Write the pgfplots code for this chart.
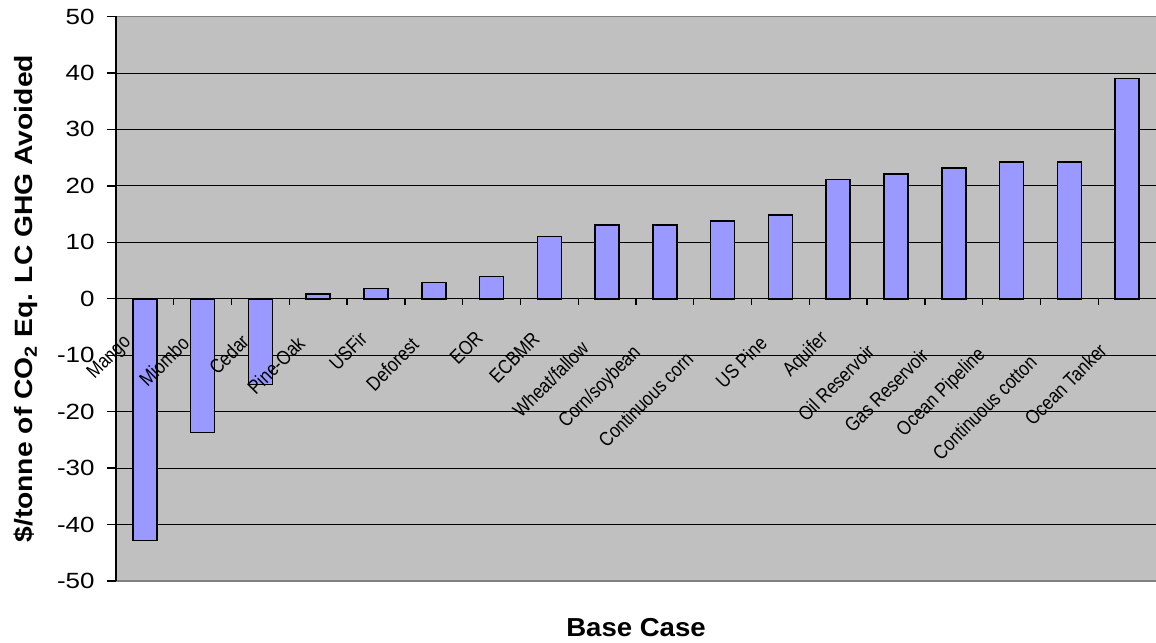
\documentclass[border=0pt]{standalone}
\usepackage{fontspec}
\setmainfont{Liberation Sans}
\newfontfamily\tickfont[FakeStretch=1.18]{Liberation Sans}
\newfontfamily\catfont[FakeStretch=0.85]{Liberation Sans}
\newfontfamily\ylabfont[FakeStretch=1.13]{Liberation Sans}
\newfontfamily\xlabfont[FakeStretch=1.06]{Liberation Sans}
\usepackage{pgfplots}
\pgfplotsset{compat=1.18}
\definecolor{plotbg}{HTML}{C0C0C0}
\definecolor{barfill}{HTML}{9999FF}
\definecolor{bordergray}{HTML}{808080}
\begin{document}
\begin{tikzpicture}
\begin{axis}[
  axis on top,
  scale only axis, width=520pt, height=282.25pt,
  xmin=-0.5, xmax=17.5, ymin=-50, ymax=50,
  axis x line=middle, axis y line=left,
  axis line style={-, black, line width=0.7pt},
  hide obscured x ticks=false, hide obscured y ticks=false,
  axis background/.style={fill=plotbg, draw=none},
  ytick={-50,-40,...,50},
  tick align=outside,
  major tick length=4.5pt,
  minor tick length=3pt,
  ytick style={black, line width=0.7pt},
  major x tick style={draw=none},
  minor x tick style={black, line width=0.7pt},
  xtick={0,...,17},
  minor xtick={0.5,1.5,...,16.5},
  xticklabels={{Mango\hspace*{3.2pt}},{Miombo\hspace*{3.5pt}},{Cedar\hspace*{2.1pt}},{Pine-Oak\hspace*{3.5pt}},{USFir\hspace*{0.35pt}},{Deforest\hspace*{4.6pt}},{EOR},{ECBMR\hspace*{0.7pt}},{Wheat/fallow\hspace*{7.1pt}},{Corn/soybean\hspace*{10.6pt}},{Continuous corn\hspace*{14.8pt}},{US Pine\hspace*{3.5pt}},{Aquifer\hspace*{0.7pt}},{Oil Reservoir\hspace*{9.2pt}},{Gas Reservoir\hspace*{12pt}},{Ocean Pipeline\hspace*{12pt}},{Continuous cotton\hspace*{17pt}},{Ocean Tanker\hspace*{8.5pt}}},
  xticklabel style={font=\catfont\fontsize{10}{11}\selectfont, inner sep=0pt, xshift=-6pt, yshift=-13.5pt, rotate=45, anchor=east},
  /pgf/number format/assume math mode=true,
  yticklabel style={font=\tickfont\fontsize{11}{13}\selectfont, inner sep=0pt, anchor=east, xshift=-6pt},
  every axis y label/.style={at={(axis description cs:0,0.5)}, xshift=-41.5pt, rotate=90, anchor=base, font=\ylabfont\bfseries\fontsize{12.5}{15}\selectfont},
  every axis x label/.style={at={(axis description cs:0.5,0)}, yshift=-27.5pt, anchor=base, font=\xlabfont\bfseries\fontsize{13}{15}\selectfont},
  ylabel={\$/tonne of CO\textsubscript{2} Eq. LC GHG Avoided},
  xlabel={Base Case},
]
\pgfplotsinvokeforeach{-40,-30,-20,-10,10,20,30,40}{
  \draw[black, line width=0.45pt] (axis cs:-0.5,#1) -- (axis cs:17.5,#1);
}
\addplot[ybar, bar width=12pt, fill=barfill, draw=black, line width=0.75pt] coordinates {
(0,-42.8) (1,-23.7) (2,-15.2) (3,0.8) (4,1.8) (5,2.9) (6,3.9) (7,11.0) (8,13.1)
(9,13.1) (10,13.8) (11,14.8) (12,21.1) (13,22.1) (14,23.2) (15,24.2) (16,24.2) (17,39.0)
};
\draw[bordergray, line width=0.8pt] (axis description cs:0,1) -- (axis description cs:1,1);
\draw[bordergray, line width=0.8pt] (axis description cs:0,0) -- (axis description cs:1,0);
\end{axis}
\pgfresetboundingbox
\path[use as bounding box] ([xshift=-58pt,yshift=-30.5pt]current axis.south west) rectangle ([yshift=8.25pt]current axis.north east);
\end{tikzpicture}
\end{document}
